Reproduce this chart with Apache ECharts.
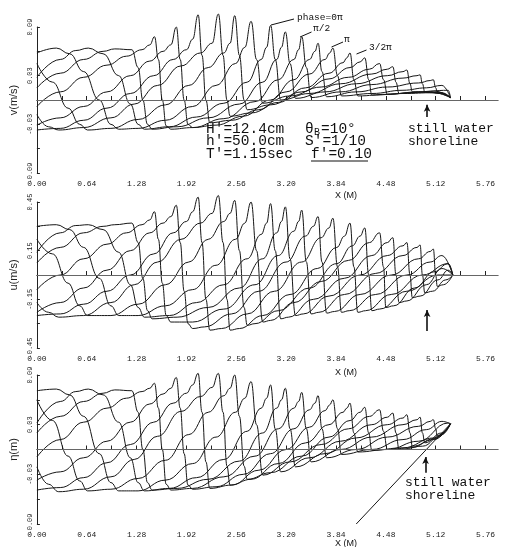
<!DOCTYPE html>
<html><head><meta charset="utf-8">
<script src="https://cdn.jsdelivr.net/npm/echarts@6/dist/echarts.min.js"></script>
<style>html,body{margin:0;padding:0;background:#fff}#c{width:509px;height:547px}</style>
</head><body><div id="c"></div>
<script>
// ---------- tick labels ----------
const xTickLabels = ['0.00','0.64','1.28','1.92','2.56','3.20','3.84','4.48','5.12','5.76'];
const vTickLabels = ['-0.09','-0.03','0.03','0.09'];
const uTickLabels = ['-0.45','-0.15','0.15','0.45'];
const etaTickLabels = ['-0.09','-0.03','0.03','0.09'];

// ---------- v (m/s) profiles, 8 phases (pi/4 apart) ----------
const v_c0 = [[0,0.058],[0.25,0.064],[0.42,0.057],[0.6,0.035],[0.8,0.0],[0.95,-0.03],[1.05,-0.036],[1.3,-0.035],[1.65,-0.025],[2.0,-0.008],[2.3,0.018],[2.55,0.045],[2.67,0.065],[2.75,0.097],[2.82,0.05],[2.9,-0.004],[3.25,0.005],[3.65,0.016],[4.0,0.028],[4.27,0.038],[4.4,0.045],[4.45,0.025],[4.5,0.007],[4.8,0.009],[5.1,0.011],[5.31,0.003]];
const v_c1 = [[0,0.028],[0.3,0.05],[0.5,0.061],[0.66,0.064],[0.85,0.057],[1.05,0.03],[1.2,-0.005],[1.3,-0.03],[1.38,-0.036],[1.7,-0.033],[2.05,-0.021],[2.4,-0.004],[2.7,0.022],[2.88,0.05],[2.95,0.065],[3.0,0.092],[3.06,0.05],[3.13,0.0],[3.5,0.008],[3.9,0.02],[4.3,0.032],[4.5,0.038],[4.57,0.041],[4.61,0.022],[4.65,0.008],[4.95,0.01],[5.2,0.009],[5.31,0.003]];
const v_c2 = [[0,0.015],[0.3,0.033],[0.6,0.05],[0.85,0.06],[1.0,0.063],[1.22,0.062],[1.3,0.04],[1.36,0.0],[1.42,-0.03],[1.48,-0.036],[1.8,-0.033],[2.2,-0.022],[2.6,-0.005],[2.9,0.022],[3.08,0.05],[3.14,0.065],[3.19,0.084],[3.25,0.045],[3.32,0.002],[3.7,0.01],[4.1,0.02],[4.5,0.03],[4.7,0.035],[4.75,0.037],[4.79,0.02],[4.82,0.01],[5.1,0.009],[5.31,0.003]];
const v_c3 = [[0,-0.008],[0.3,0.01],[0.6,0.028],[0.9,0.043],[1.15,0.054],[1.35,0.062],[1.45,0.068],[1.51,0.078],[1.56,0.05],[1.61,0.0],[1.66,-0.032],[1.72,-0.036],[2.0,-0.034],[2.4,-0.023],[2.8,-0.002],[3.1,0.025],[3.3,0.05],[3.36,0.062],[3.4,0.078],[3.46,0.04],[3.52,0.003],[3.9,0.01],[4.3,0.019],[4.7,0.027],[4.88,0.03],[4.92,0.031],[4.95,0.02],[4.98,0.01],[5.2,0.008],[5.31,0.003]];
const v_c4 = [[0,-0.031],[0.3,-0.022],[0.6,-0.008],[0.9,0.01],[1.2,0.03],[1.45,0.048],[1.62,0.06],[1.72,0.068],[1.79,0.09],[1.84,0.05],[1.89,0.0],[1.94,-0.03],[2.0,-0.034],[2.3,-0.031],[2.65,-0.02],[3.0,0.0],[3.3,0.025],[3.5,0.05],[3.57,0.06],[3.61,0.07],[3.66,0.035],[3.72,0.004],[4.1,0.01],[4.5,0.016],[4.9,0.021],[5.05,0.024],[5.09,0.025],[5.12,0.015],[5.14,0.01],[5.31,0.003]];
const v_c5 = [[0,-0.037],[0.3,-0.035],[0.6,-0.025],[0.9,-0.01],[1.2,0.008],[1.5,0.03],[1.75,0.05],[1.92,0.062],[2.0,0.075],[2.07,0.105],[2.12,0.055],[2.17,0.0],[2.22,-0.028],[2.5,-0.025],[2.85,-0.012],[3.2,0.01],[3.5,0.032],[3.7,0.05],[3.76,0.058],[3.8,0.064],[3.86,0.03],[3.91,0.005],[4.3,0.008],[4.7,0.012],[5.0,0.015],[5.2,0.018],[5.31,0.003]];
const v_c6 = [[0,-0.018],[0.15,-0.033],[0.28,-0.037],[0.6,-0.034],[0.95,-0.022],[1.25,-0.005],[1.55,0.018],[1.85,0.042],[2.1,0.058],[2.25,0.07],[2.33,0.106],[2.39,0.055],[2.44,0.0],[2.48,-0.02],[2.75,-0.016],[3.1,-0.003],[3.45,0.015],[3.75,0.033],[3.93,0.046],[3.98,0.052],[4.02,0.058],[4.07,0.025],[4.12,0.005],[4.5,0.007],[4.9,0.01],[5.28,0.012],[5.31,0.003]];
const v_c7 = [[0,0.045],[0.2,0.022],[0.4,-0.01],[0.55,-0.03],[0.65,-0.037],[0.95,-0.035],[1.3,-0.024],[1.65,-0.006],[1.95,0.018],[2.2,0.04],[2.4,0.058],[2.48,0.07],[2.54,0.104],[2.6,0.055],[2.66,0.0],[2.7,-0.012],[3.0,-0.006],[3.4,0.01],[3.75,0.026],[4.02,0.04],[4.15,0.047],[4.21,0.052],[4.26,0.025],[4.3,0.006],[4.7,0.008],[5.1,0.009],[5.31,0.003]];

// ---------- u (m/s) profiles ----------
const u_c0 = [[0,0.30],[0.25,0.31],[0.42,0.28],[0.6,0.17],[0.8,-0.02],[0.95,-0.19],[1.05,-0.25],[1.3,-0.25],[1.65,-0.19],[2.0,-0.09],[2.3,0.06],[2.55,0.22],[2.67,0.32],[2.75,0.45],[2.82,0.15],[2.9,-0.29],[3.0,-0.28],[3.3,-0.17],[3.65,-0.04],[4.0,0.09],[4.27,0.2],[4.4,0.26],[4.45,0.05],[4.48,-0.2],[4.58,-0.19],[4.85,-0.08],[5.1,0.02],[5.28,0.07],[5.34,0.0]];
const u_c1 = [[0,0.14],[0.3,0.26],[0.5,0.305],[0.66,0.31],[0.85,0.28],[1.05,0.14],[1.2,-0.06],[1.3,-0.2],[1.38,-0.26],[1.7,-0.25],[2.05,-0.17],[2.4,-0.06],[2.7,0.1],[2.88,0.25],[2.95,0.32],[3.0,0.44],[3.06,0.15],[3.13,-0.27],[3.23,-0.26],[3.55,-0.15],[3.95,-0.02],[4.3,0.12],[4.5,0.2],[4.57,0.23],[4.61,0.0],[4.65,-0.17],[4.75,-0.16],[5.0,-0.06],[5.2,0.04],[5.34,0.0]];
const u_c2 = [[0,0.074],[0.3,0.17],[0.6,0.26],[0.85,0.3],[1.0,0.31],[1.22,0.32],[1.3,0.2],[1.36,-0.02],[1.42,-0.22],[1.48,-0.27],[1.8,-0.26],[2.2,-0.2],[2.6,-0.08],[2.9,0.1],[3.08,0.26],[3.14,0.33],[3.19,0.42],[3.25,0.1],[3.32,-0.25],[3.42,-0.24],[3.75,-0.13],[4.15,0.0],[4.5,0.12],[4.7,0.18],[4.75,0.2],[4.79,0.0],[4.82,-0.14],[4.92,-0.13],[5.15,-0.03],[5.28,0.03],[5.34,0.0]];
const u_c3 = [[0,-0.09],[0.3,0.0],[0.6,0.1],[0.9,0.19],[1.15,0.26],[1.35,0.31],[1.45,0.34],[1.51,0.39],[1.56,0.22],[1.61,-0.05],[1.66,-0.25],[1.72,-0.29],[2.0,-0.29],[2.4,-0.21],[2.8,-0.06],[3.1,0.12],[3.3,0.27],[3.36,0.33],[3.4,0.40],[3.46,0.08],[3.52,-0.24],[3.62,-0.23],[3.95,-0.12],[4.35,0.01],[4.7,0.12],[4.88,0.17],[4.92,0.185],[4.95,0.0],[4.98,-0.11],[5.08,-0.1],[5.25,-0.03],[5.34,0.0]];
const u_c4 = [[0,-0.23],[0.3,-0.17],[0.6,-0.08],[0.9,0.03],[1.2,0.15],[1.45,0.26],[1.62,0.32],[1.72,0.36],[1.79,0.43],[1.84,0.2],[1.89,-0.1],[1.94,-0.3],[2.0,-0.33],[2.15,-0.32],[2.5,-0.24],[2.85,-0.1],[3.2,0.08],[3.45,0.24],[3.55,0.3],[3.61,0.36],[3.66,0.08],[3.72,-0.235],[3.82,-0.225],[4.15,-0.12],[4.55,0.0],[4.9,0.1],[5.05,0.145],[5.09,0.16],[5.12,0.0],[5.14,-0.07],[5.22,-0.06],[5.34,0.0]];
const u_c5 = [[0,-0.25],[0.3,-0.24],[0.6,-0.18],[0.9,-0.1],[1.2,0.0],[1.5,0.13],[1.75,0.26],[1.92,0.33],[2.0,0.39],[2.07,0.48],[2.12,0.2],[2.17,-0.15],[2.22,-0.34],[2.37,-0.33],[2.7,-0.24],[3.05,-0.1],[3.4,0.08],[3.65,0.23],[3.75,0.29],[3.8,0.35],[3.86,0.05],[3.91,-0.23],[4.01,-0.22],[4.35,-0.12],[4.75,0.0],[5.05,0.08],[5.2,0.12],[5.34,0.0]];
const u_c6 = [[0,-0.17],[0.15,-0.23],[0.28,-0.26],[0.6,-0.25],[0.95,-0.17],[1.25,-0.06],[1.55,0.08],[1.85,0.22],[2.1,0.32],[2.25,0.38],[2.33,0.49],[2.39,0.2],[2.44,-0.15],[2.48,-0.34],[2.6,-0.33],[2.9,-0.25],[3.25,-0.12],[3.6,0.04],[3.85,0.17],[3.95,0.24],[4.02,0.32],[4.07,0.05],[4.12,-0.23],[4.22,-0.22],[4.55,-0.12],[4.95,0.0],[5.28,0.07],[5.34,0.0]];
const u_c7 = [[0,0.22],[0.2,0.13],[0.4,-0.05],[0.55,-0.19],[0.65,-0.25],[0.95,-0.25],[1.3,-0.18],[1.65,-0.06],[1.95,0.08],[2.2,0.22],[2.4,0.33],[2.48,0.38],[2.54,0.46],[2.6,0.15],[2.66,-0.2],[2.7,-0.31],[2.8,-0.3],[3.1,-0.22],[3.5,-0.08],[3.85,0.07],[4.05,0.18],[4.15,0.24],[4.21,0.29],[4.26,0.0],[4.3,-0.22],[4.4,-0.21],[4.75,-0.1],[5.15,0.0],[5.34,0.0]];

// ---------- eta (m) profiles ----------
const eta_c0 = [[0,0.071],[0.25,0.073],[0.42,0.066],[0.6,0.04],[0.8,-0.005],[0.95,-0.04],[1.05,-0.05],[1.3,-0.05],[1.65,-0.037],[2.0,-0.017],[2.3,0.015],[2.55,0.045],[2.67,0.062],[2.75,0.082],[2.82,0.03],[2.9,-0.031],[3.25,-0.015],[3.65,0.006],[4.0,0.025],[4.27,0.04],[4.4,0.048],[4.45,0.022],[4.5,0.0],[4.8,0.002],[5.1,0.013],[5.31,0.031]];
const eta_c1 = [[0,0.032],[0.3,0.058],[0.5,0.07],[0.66,0.073],[0.85,0.066],[1.05,0.033],[1.2,-0.01],[1.3,-0.04],[1.38,-0.05],[1.7,-0.047],[2.05,-0.034],[2.4,-0.012],[2.7,0.022],[2.88,0.05],[2.95,0.062],[3.0,0.078],[3.06,0.025],[3.13,-0.027],[3.5,-0.01],[3.9,0.01],[4.3,0.03],[4.5,0.039],[4.57,0.044],[4.61,0.02],[4.65,0.0],[4.95,0.004],[5.2,0.018],[5.31,0.031]];
const eta_c2 = [[0,0.02],[0.3,0.04],[0.6,0.058],[0.85,0.068],[1.0,0.072],[1.22,0.071],[1.3,0.045],[1.36,0.0],[1.42,-0.04],[1.48,-0.049],[1.8,-0.047],[2.2,-0.036],[2.6,-0.014],[2.9,0.02],[3.08,0.05],[3.14,0.06],[3.19,0.074],[3.25,0.025],[3.32,-0.021],[3.7,-0.005],[4.1,0.014],[4.5,0.03],[4.7,0.038],[4.75,0.042],[4.79,0.02],[4.82,0.004],[5.1,0.012],[5.31,0.031]];
const eta_c3 = [[0,-0.009],[0.3,0.012],[0.6,0.033],[0.9,0.05],[1.15,0.062],[1.35,0.07],[1.45,0.074],[1.51,0.08],[1.56,0.05],[1.61,0.0],[1.66,-0.042],[1.72,-0.049],[2.0,-0.047],[2.4,-0.033],[2.8,-0.008],[3.1,0.025],[3.3,0.05],[3.36,0.058],[3.4,0.069],[3.46,0.025],[3.52,-0.015],[3.9,0.0],[4.3,0.015],[4.7,0.03],[4.88,0.036],[4.92,0.039],[4.95,0.02],[4.98,0.008],[5.2,0.02],[5.31,0.031]];
const eta_c4 = [[0,-0.037],[0.3,-0.027],[0.6,-0.01],[0.9,0.01],[1.2,0.033],[1.45,0.055],[1.62,0.067],[1.72,0.074],[1.79,0.087],[1.84,0.05],[1.89,-0.005],[1.94,-0.043],[2.0,-0.048],[2.3,-0.045],[2.65,-0.03],[3.0,-0.005],[3.3,0.025],[3.5,0.048],[3.57,0.056],[3.61,0.065],[3.66,0.025],[3.72,-0.01],[4.1,0.0],[4.5,0.015],[4.9,0.028],[5.05,0.034],[5.09,0.036],[5.12,0.025],[5.14,0.016],[5.31,0.031]];
const eta_c5 = [[0,-0.049],[0.3,-0.046],[0.6,-0.034],[0.9,-0.016],[1.2,0.006],[1.5,0.033],[1.75,0.056],[1.92,0.068],[2.0,0.078],[2.07,0.092],[2.12,0.045],[2.17,-0.015],[2.22,-0.047],[2.5,-0.043],[2.85,-0.025],[3.2,0.0],[3.5,0.027],[3.7,0.047],[3.76,0.054],[3.8,0.06],[3.86,0.025],[3.91,-0.006],[4.3,0.0],[4.7,0.012],[5.0,0.024],[5.2,0.034],[5.31,0.031]];
const eta_c6 = [[0,-0.021],[0.15,-0.042],[0.28,-0.051],[0.6,-0.048],[0.95,-0.033],[1.25,-0.012],[1.55,0.016],[1.85,0.046],[2.1,0.064],[2.25,0.075],[2.33,0.092],[2.39,0.045],[2.44,-0.02],[2.48,-0.043],[2.75,-0.036],[3.1,-0.017],[3.45,0.008],[3.75,0.03],[3.93,0.045],[3.98,0.05],[4.02,0.056],[4.07,0.02],[4.12,-0.003],[4.5,0.0],[4.9,0.01],[5.28,0.032],[5.31,0.031]];
const eta_c7 = [[0,0.06],[0.2,0.035],[0.4,-0.008],[0.55,-0.038],[0.65,-0.05],[0.95,-0.048],[1.3,-0.035],[1.65,-0.013],[1.95,0.018],[2.2,0.045],[2.4,0.065],[2.48,0.074],[2.54,0.09],[2.6,0.04],[2.66,-0.02],[2.7,-0.036],[3.0,-0.028],[3.4,-0.008],[3.75,0.015],[4.02,0.035],[4.15,0.045],[4.21,0.051],[4.26,0.02],[4.3,-0.001],[4.7,0.002],[5.1,0.014],[5.31,0.031]];

// beach slope (1/10) in the eta panel, and shoreline arrows
const etaBeach = [[4.1,-0.09],[5.31,0.031]];
const vArrow = [[5.01,-0.021],[5.01,-0.006]];
const uArrow = [[5.01,-0.345],[5.01,-0.216]];
const etaArrow = [[4.99,-0.028],[4.99,-0.009]];

// ---------- chart ----------
const chart = echarts.init(document.getElementById('c'), null, {renderer:'canvas'});
const INK = '#161616';
const mono = '"Liberation Mono","DejaVu Sans Mono",monospace';
const sans = '"Liberation Sans",Arial,sans-serif';

function fmt(list){
  return function(val){ const s=(Math.round(val*100)/100).toFixed(2); return list.indexOf(s)>=0 ? s : ''; };
}
function xAx(i){
  return {gridIndex:i, type:'value', min:0, max:5.92, interval:0.32,
    axisLine:{lineStyle:{color:'#222',width:1}},
    axisTick:{inside:true,length:4,lineStyle:{color:'#222'}},
    splitLine:{show:false},
    axisLabel:{formatter:fmt(xTickLabels), fontSize:8, fontFamily:mono, color:'#222', margin:7, showMaxLabel:false}};
}
function yAx(i,min,max,step,labels,name){
  return {gridIndex:i, type:'value', min:min, max:max, interval:step,
    axisLine:{show:true,lineStyle:{color:'#222',width:1}},
    axisTick:{show:true,inside:true,length:3,lineStyle:{color:'#222'}},
    splitLine:{show:false},
    axisLabel:{formatter:fmt(labels), rotate:90, fontSize:7, fontFamily:mono, color:'#222', margin:3},
    name:name, nameLocation:'middle', nameGap:12,
    nameTextStyle:{fontSize:11, fontFamily:sans, color:'#222'}};
}
function ml(arrow){
  return {silent:true, animation:false, symbol:['none','none'], label:{show:false},
    emphasis:{disabled:true},
    lineStyle:{color:'#666',width:1.2,type:'solid'},
    data:[{yAxis:0},
      [{coord:arrow[0], lineStyle:{color:'#111',width:1.6,type:'solid'}},
       {coord:arrow[1], symbol:'arrow', symbolSize:[5,7]}]]};
}
function mk(d,i,mark){
  const s = {type:'line', xAxisIndex:i, yAxisIndex:i, data:d, showSymbol:false, symbol:'none',
    smooth:0.45, smoothMonotone:'x', clip:false, silent:true, animation:false,
    lineStyle:{color:INK,width:1}, z:3};
  if(mark) s.markLine = mark;
  return s;
}
const panels = [
  {curves:[v_c0,v_c1,v_c2,v_c3,v_c4,v_c5,v_c6,v_c7], arrow:vArrow},
  {curves:[u_c0,u_c1,u_c2,u_c3,u_c4,u_c5,u_c6,u_c7], arrow:uArrow},
  {curves:[eta_c0,eta_c1,eta_c2,eta_c3,eta_c4,eta_c5,eta_c6,eta_c7], arrow:etaArrow}
];
const series = [];
panels.forEach((p,pi)=>p.curves.forEach((d,ci)=>series.push(mk(d,pi,ci===0?ml(p.arrow):null))));
series.push({type:'line', xAxisIndex:2, yAxisIndex:2, data:etaBeach, showSymbol:false, symbol:'none',
  clip:false, silent:true, animation:false, lineStyle:{color:INK,width:1}});

function txt(t,x,y,size,fam,extra){
  return Object.assign({type:'text', x:x, y:y, silent:true,
    style:{text:t, font:size+'px '+(fam||mono), fill:'#111', textAlign:'left', textVerticalAlign:'middle'}}, extra||{});
}
function seg(x1,y1,x2,y2,w){
  return {type:'line', silent:true, shape:{x1:x1,y1:y1,x2:x2,y2:y2}, style:{stroke:'#111', lineWidth:w||1}};
}
const graphic = [
  txt('phase=0π',297,17,9.5), seg(294,19,271,25),
  txt('π/2',313,28.5,9.5), seg(311.5,32,300,37),
  txt('π',344,39,9.5), seg(343,42,331.5,47),
  txt('3/2π',369,47,9.5), seg(366.5,50,356.5,54),
  txt("H'=12.4cm",206,129,14.5), txt("h'=50.0cm",206,141.5,14.5), txt("T'=1.15sec",206,154.5,14.5),
  txt('θ',305,129,14.5), txt('B',314,132,10), txt('=10°',321,129,14.5),
  txt("S'=1/10",305,141.5,14.5), txt("f'=0.10",311,154.5,14.5), seg(311,161,368,161,1.2),
  txt('still water',408,128.5,13), txt('shoreline',408,141.5,13),
  txt('still water',405,482.5,13), txt('shoreline',405,496,13),
  txt('X (M)',335,196,9,sans), txt('X (M)',335,373,9,sans), txt('X (M)',335,544,9,sans)
];

chart.setOption({
  animation:false,
  backgroundColor:'#fff',
  grid:[{left:36,right:11,top:27,height:146},{left:36,right:11,top:202,height:146},{left:36,right:11,top:375,height:149}],
  xAxis:[xAx(0),xAx(1),xAx(2)],
  yAxis:[yAx(0,-0.09,0.09,0.03,vTickLabels,'v(m/s)'),
         yAx(1,-0.45,0.45,0.15,uTickLabels,'u(m/s)'),
         yAx(2,-0.09,0.09,0.03,etaTickLabels,'η(m)')],
  series:series,
  graphic:graphic
});
</script></body></html>
